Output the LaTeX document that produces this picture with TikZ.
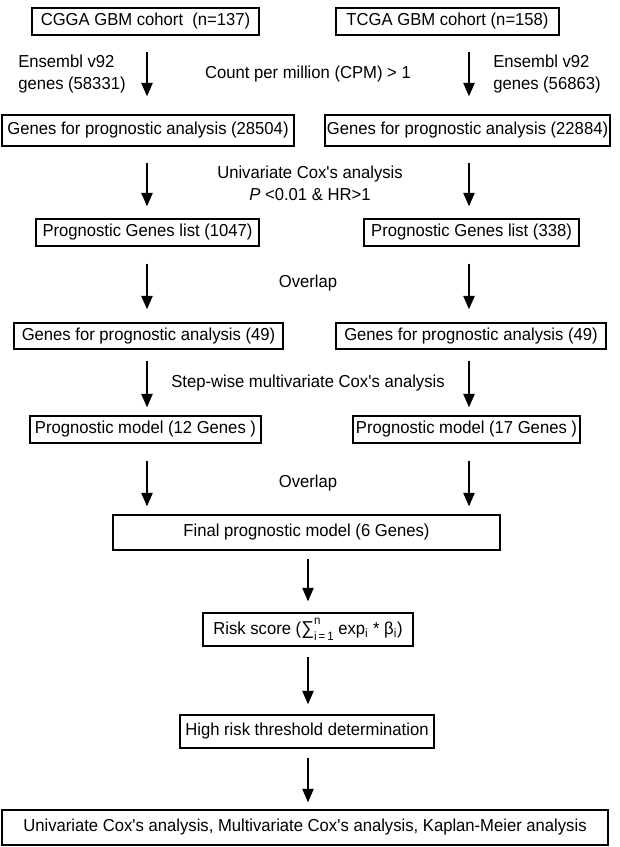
\documentclass[tikz,border=0pt]{standalone}
\usepackage{fontspec}
\setmainfont{Liberation Sans}[FakeStretch=0.96]
\usetikzlibrary{arrows.meta}
\newcommand{\fsz}{\fontsize{13}{16.5}\selectfont}
\newcommand{\sq}{\XeTeXglyph\the\XeTeXcharglyph"27\relax}
\newcommand{\sumsym}{{\fontsize{14}{16}\selectfont ∑}\hbox to 0pt{\raisebox{1.05ex}{\fontsize{9}{10}\selectfont n}\hss}\raisebox{-0.65ex}{\fontsize{9}{10}\selectfont i\,=\,1}}
\newcommand{\flowbox}[6]{\node[box, minimum width={(#4-#2)*0.75pt}, minimum height={(#5-#3)*0.75pt}] (#1) at ({(#2+#4)/2},{(#3+#5)/2}) {#6};}
\begin{document}
\begin{tikzpicture}[x=0.75pt,y=-0.75pt,
  every node/.style={font=\fsz},
  box/.style={draw, line width=1.1pt, inner sep=0pt, align=center},
  lbl/.style={inner sep=0pt, align=left},
  clbl/.style={inner sep=0pt, align=center},
  arr/.style={line width=0.9pt, -{Triangle[width=8.5pt,length=10pt]}}]
\useasboundingbox (0,0) rectangle (619,847);
% columns
\coordinate (cL) at (147,0);
\coordinate (cR) at (469,0);
\coordinate (cM) at (308,0);
% boxes
\flowbox{L1}{32}{8}{259}{35}{CGGA GBM cohort \ (n=137)}
\flowbox{R1}{336}{8}{559}{35}{TCGA GBM cohort (n=158)}
\flowbox{L2}{2}{115}{294}{146}{Genes for prognostic analysis (28504)}
\flowbox{R2}{325}{115}{610}{146}{Genes for prognostic analysis (22884)}
\flowbox{L3}{36}{219}{259}{246}{Prognostic Genes list (1047)}
\flowbox{R3}{364}{219}{579}{246}{Prognostic Genes list (338)}
\flowbox{L4}{14}{323}{283}{349}{Genes for prognostic analysis (49)}
\flowbox{R4}{336}{323}{606}{349}{Genes for prognostic analysis (49)}
\flowbox{L5}{30}{416}{261}{443}{Prognostic model (12 Genes )}
\flowbox{R5}{353}{416}{580}{443}{Prognostic model (17 Genes )}
\flowbox{F}{113}{515}{500}{550}{Final prognostic model (6 Genes)}
\flowbox{RS}{203}{613}{413}{646}{Risk score (\sumsym\ exp\textsubscript{i} * β\textsubscript{i})}
\flowbox{HR}{180}{715}{434}{748}{High risk threshold determination}
\flowbox{B}{2}{810}{608}{845}{Univariate Cox\sq s analysis, Multivariate Cox\sq s analysis, Kaplan-Meier analysis}
% labels
\node[lbl, anchor=west] (eL) at (18,74) {Ensembl v92\\genes (58331)};
\node[lbl, anchor=west] (eR) at (493,74) {Ensembl v92\\genes (56863)};
\node[clbl] (cpm) at (308,74) {Count per million (CPM) > 1};
\node[clbl] (uni) at (310,183.5) {Univariate Cox\sq s analysis\\\textit{P} <0.01 \& HR>1};
\node[clbl] (ov1) at (308,283) {Overlap};
\node[clbl] (sw) at (308,383) {Step-wise multivariate Cox\sq s analysis};
\node[clbl] (ov2) at (308,483) {Overlap};
% arrows
\draw[arr, shorten <=12pt, shorten >=13.5pt] (L1.south -| cL) -- (L2.north -| cL);
\draw[arr, shorten <=12pt, shorten >=13.5pt] (R1.south -| cR) -- (R2.north -| cR);
\draw[arr, shorten <=12pt, shorten >=9pt] (L2.south -| cL) -- (L3.north -| cL);
\draw[arr, shorten <=12pt, shorten >=9pt] (R2.south -| cR) -- (R3.north -| cR);
\draw[arr, shorten <=12.75pt, shorten >=9.75pt] (L3.south -| cL) -- (L4.north -| cL);
\draw[arr, shorten <=12.75pt, shorten >=9.75pt] (R3.south -| cR) -- (R4.north -| cR);
\draw[arr, shorten <=8.25pt, shorten >=6pt] (L4.south -| cL) -- (L5.north -| cL);
\draw[arr, shorten <=8.25pt, shorten >=6pt] (R4.south -| cR) -- (R5.north -| cR);
\draw[arr, shorten <=12.75pt, shorten >=6pt] (L5.south -| cL) -- (F.north -| cL);
\draw[arr, shorten <=12.75pt, shorten >=6pt] (R5.south -| cR) -- (F.north -| cR);
\draw[arr, shorten <=6pt, shorten >=8.25pt] (F.south -| cM) -- (RS.north -| cM);
\draw[arr, shorten <=7.5pt, shorten >=7.5pt] (RS.south -| cM) -- (HR.north -| cM);
\draw[arr, shorten <=6.75pt, shorten >=5.25pt] (HR.south -| cM) -- (B.north -| cM);
\end{tikzpicture}
\end{document}
